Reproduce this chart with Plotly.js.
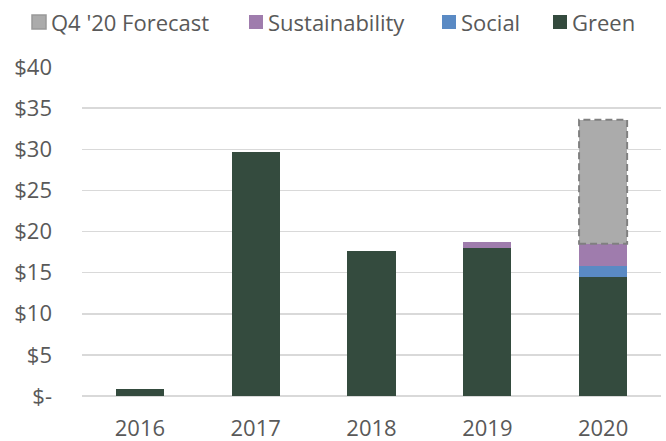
<!DOCTYPE html>
<html>
<head>
<meta charset="utf-8">
<script src="https://cdn.plot.ly/plotly-3.0.1.min.js"></script>
<style>html,body{margin:0;padding:0;background:#fff;}#chart{width:666px;height:441px;}</style>
</head>
<body>
<div id="chart"></div>
<script>
// Data (US$ bn)
var years = ['2016', '2017', '2018', '2019', '2020'];
var green = [0.9, 29.7, 17.6, 18.0, 14.5];
var social = [0, 0, 0, 0, 1.3];
var sustainability = [0, 0, 0, 0.7, 2.7];
var forecast = [0, 0, 0, 0, 15.1];
var yTickVals = [0, 5, 10, 15, 20, 25, 30, 35, 40];
var yTickText = ['$-', '$5', '$10', '$15', '$20', '$25', '$30', '$35', '$40'];
var seriesNames = ['Green', 'Social', 'Sustainability', "Q4 '20 Forecast"];

// styles
var colors = ['#344b3e', '#5a8ac4', '#9f7cad', '#ababab'];
var barWidth = 0.415;
var fontFam = '"Open Sans", "Noto Sans", sans-serif';
var textColor = '#595959';

var seriesValues = [green, social, sustainability, forecast];
var traces = seriesValues.map(function (vals, k) {
  var t = {type: 'bar', name: seriesNames[k], x: years, y: vals, width: barWidth,
    marker: {color: colors[k]}, showlegend: false};
  if (k === 3) t.marker.line = {color: '#ababab', width: 0};
  return t;
});

// dashed outline around the forecast segment, derived from the data arrays
var shapes = [];
forecast.forEach(function (v, i) {
  if (v > 0) {
    var base = green[i] + social[i] + sustainability[i];
    shapes.push({type: 'rect', xref: 'x', yref: 'y',
      x0: i - barWidth / 2, x1: i + barWidth / 2, y0: base, y1: base + v,
      line: {color: '#808080', width: 2, dash: '7px,4px'}, fillcolor: 'rgba(0,0,0,0)'});
  }
});

// custom legend (order: Forecast, Sustainability, Social, Green) in pixel layout
var W = 666, H = 441, mL = 82, mR = 5, mT = 67, mB = 45;
var pw = W - mL - mR, ph = H - mT - mB;
function px2x(px) { return (px - mL) / pw; }
function py2y(py) { return (H - mB - py) / ph; }
var legendOrder = [3, 2, 1, 0];
var legendMarkerX = [32, 249, 442, 553];
var annotations = [];
legendOrder.forEach(function (k, j) {
  var x0 = legendMarkerX[j];
  shapes.push({type: 'rect', xref: 'paper', yref: 'paper',
    x0: px2x(x0), x1: px2x(x0 + 14), y0: py2y(29), y1: py2y(15),
    fillcolor: colors[k],
    line: {color: k === 3 ? '#999999' : colors[k], width: k === 3 ? 1.5 : 0}});
  annotations.push({xref: 'paper', yref: 'paper', x: px2x(x0 + 17), y: py2y(22),
    xanchor: 'left', yanchor: 'middle', showarrow: false, text: seriesNames[k],
    font: {family: fontFam, size: 22, color: textColor}});
});

var layout = {
  width: W, height: H,
  margin: {l: mL, r: mR, t: mT, b: mB, pad: 0},
  paper_bgcolor: '#ffffff', plot_bgcolor: '#ffffff',
  barmode: 'stack',
  font: {family: fontFam, size: 22, color: textColor},
  showlegend: false,
  xaxis: {type: 'category', showgrid: false, zeroline: false, showline: false,
    ticks: '', ticklabelstandoff: 17, tickfont: {size: 22, color: textColor}},
  yaxis: {range: [0, 40], tickvals: yTickVals, ticktext: yTickText,
    showgrid: true, gridcolor: '#d9d9d9', gridwidth: 1.5,
    zeroline: true, zerolinecolor: '#d9d9d9', zerolinewidth: 1.5,
    showline: false, ticks: '', ticklabelstandoff: 29,
    tickfont: {size: 22, color: textColor}},
  shapes: shapes,
  annotations: annotations
};

Plotly.newPlot('chart', traces, layout, {displayModeBar: false, staticPlot: true});
</script>
</body>
</html>
